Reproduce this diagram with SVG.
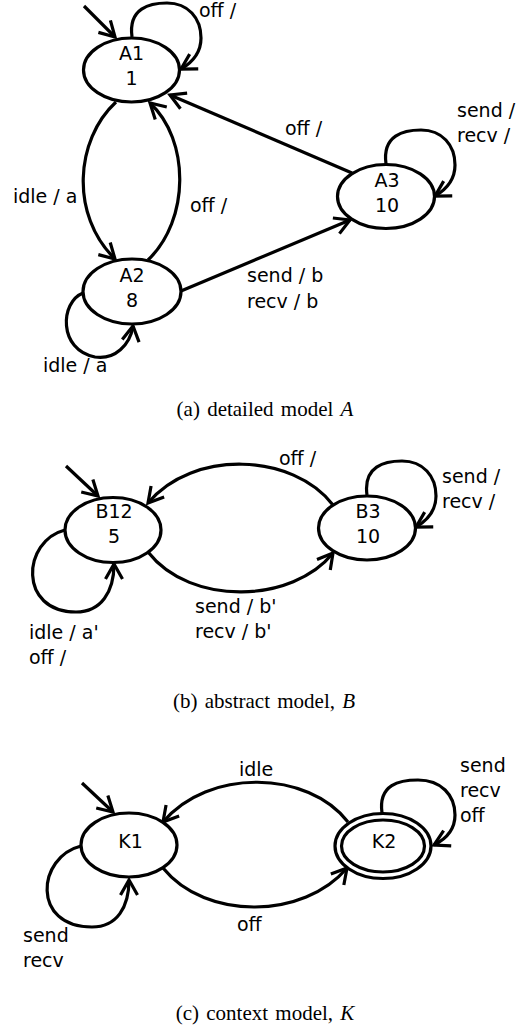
<svg xmlns="http://www.w3.org/2000/svg" width="528" height="1027" viewBox="0 0 528 1027">
<defs>
<style>
.n{fill:#fff;stroke:#000;stroke-width:3.2}
.e{fill:none;stroke:#000;stroke-width:3.2;marker-end:url(#arr)}
.t{font-family:"DejaVu Sans",sans-serif;font-size:19px;fill:#000}
.c{font-family:"Liberation Serif",serif;font-size:21px;fill:#000;text-anchor:middle;word-spacing:2px}
.m{text-anchor:middle}
</style>
<marker id="arr" markerUnits="userSpaceOnUse" markerWidth="40" markerHeight="40" viewBox="-20 -20 40 40" refX="0" refY="0" orient="auto" overflow="visible">
<path d="M-15,-8.5 L0,0 L-15,8.5" fill="none" stroke="#000" stroke-width="3.2"/>
</marker>
</defs>
<rect width="528" height="1027" fill="#fff"/>

<g id="connectors">
<path class="e" d="M84,6 L115,37"/>
<path class="e" d="M132,37 C128,8 150,3 167,3 C188,3 201,18 201,38 C201,52 193,62 181,69"/>
<path class="e" d="M116,102 C75,140 70,215 115,259"/>
<path class="e" d="M148,260 C190,220 190,140 150,103"/>
<path class="e" d="M83,293 C60,302 58,350 95,357 C115,360 130,345 133,326"/>
<path class="e" d="M181,291 L350,220"/>
<path class="e" d="M352,173 L170,95"/>
<path class="e" d="M386,164 C382,135 404,130 421,130 C442,130 455,145 455,165 C455,179 447,189 435,196"/>

<path class="e" d="M66,466 L98,496"/>
<path class="e" d="M65,530 C22,541 18,612 76,612 C101,612 114,592 114,564"/>
<path class="e" d="M367,495 C363,466 385,461 402,461 C423,461 436,476 436,496 C436,510 428,520 416,527"/>
<path class="e" d="M333,505 C293,453 193,449 148,503"/>
<path class="e" d="M148,552 C191,607 293,603 333,553"/>

<path class="e" d="M82,783 L113,812"/>
<path class="e" d="M81,846 C37,857 31,927 92,927 C117,927 129,907 129,880"/>
<path class="e" d="M382,813 C378,784 400,780 418,780 C441,780 455,795 455,815 C455,830 446,839 434,845"/>
<path class="e" d="M348,822 C308,770 208,768 163,822"/>
<path class="e" d="M163,868 C206,921 304,919 347,868"/>
</g>

<g id="A1"><ellipse class="n" cx="131.5" cy="70" rx="48" ry="32"/><text class="t m" x="131.5" y="60">A1</text><text class="t m" x="131.5" y="85">1</text></g>
<g id="A2"><ellipse class="n" cx="132" cy="291.5" rx="49" ry="32.5"/><text class="t m" x="132" y="282">A2</text><text class="t m" x="132" y="307">8</text></g>
<g id="A3"><ellipse class="n" cx="386" cy="196.5" rx="48.5" ry="32"/><text class="t m" x="387" y="187">A3</text><text class="t m" x="387" y="212">10</text></g>

<g id="B12"><ellipse class="n" cx="113" cy="530" rx="48" ry="32.5"/><text class="t m" x="114" y="518">B12</text><text class="t m" x="114" y="543">5</text></g>
<g id="B3"><ellipse class="n" cx="367" cy="528" rx="48.5" ry="32"/><text class="t m" x="368" y="518">B3</text><text class="t m" x="368" y="543">10</text></g>

<g id="K1"><ellipse class="n" cx="129" cy="845" rx="48" ry="32"/><text class="t m" x="130.5" y="848">K1</text></g>
<g id="K2"><ellipse class="n" cx="383" cy="846" rx="48" ry="32.5"/><ellipse class="n" cx="383" cy="846" rx="41.5" ry="26"/><text class="t m" x="384" y="848">K2</text></g>

<g id="labels">
<text class="t" x="199" y="17">off /</text>
<text class="t" x="13" y="203">idle / a</text>
<text class="t" x="190" y="212">off /</text>
<text class="t" x="43" y="372">idle / a</text>
<text class="t" x="285" y="135">off /</text>
<text class="t" x="457" y="117">send /</text>
<text class="t" x="457" y="142">recv /</text>
<text class="t" x="247" y="282">send / b</text>
<text class="t" x="247" y="308">recv / b</text>

<text class="t" x="279" y="465">off /</text>
<text class="t" x="442" y="483">send /</text>
<text class="t" x="442" y="508">recv /</text>
<text class="t" x="195" y="613">send / b'</text>
<text class="t" x="195" y="638">recv / b'</text>
<text class="t" x="29" y="639">idle / a'</text>
<text class="t" x="29" y="664">off /</text>

<text class="t" x="239" y="776">idle</text>
<text class="t" x="237" y="931">off</text>
<text class="t" x="23" y="942">send</text>
<text class="t" x="23" y="967">recv</text>
<text class="t" x="460" y="772">send</text>
<text class="t" x="460" y="797">recv</text>
<text class="t" x="460" y="822">off</text>
</g>

<g id="captions">
<text class="c" x="265" y="416">(a) detailed model <tspan font-style="italic">A</tspan></text>
<text class="c" x="264" y="708">(b) abstract model, <tspan font-style="italic">B</tspan></text>
<text class="c" x="265" y="1020">(c) context model, <tspan font-style="italic">K</tspan></text>
</g>
</svg>
